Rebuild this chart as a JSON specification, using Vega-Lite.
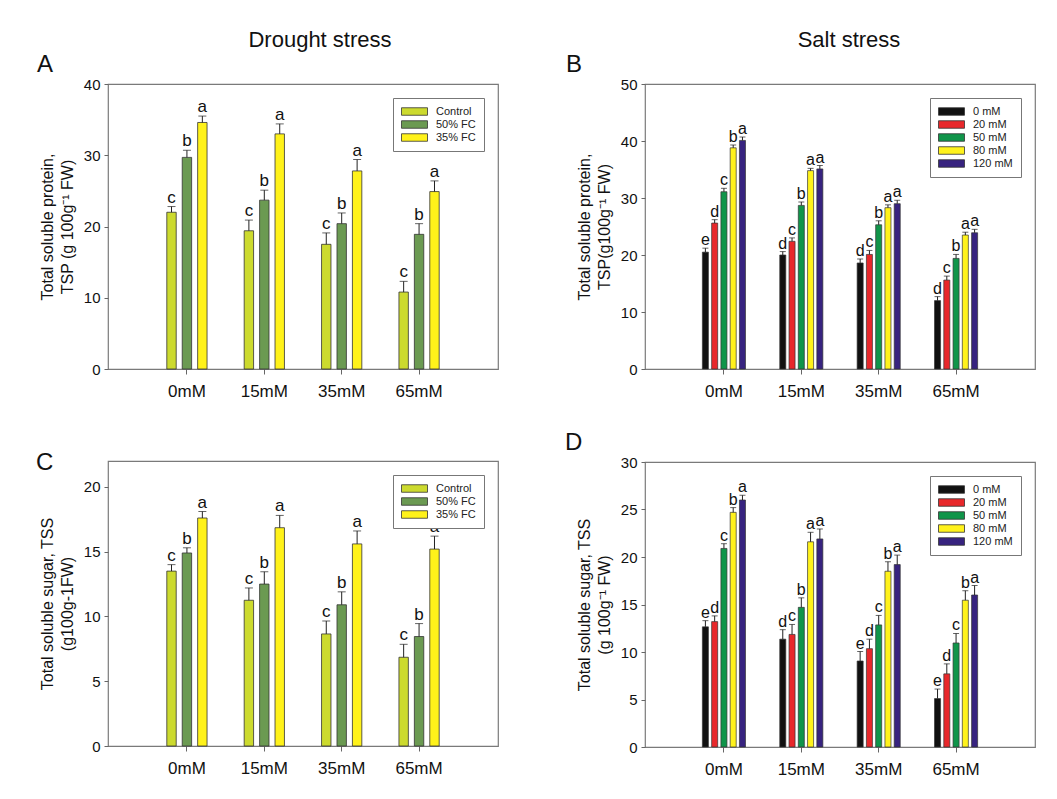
{
  "$schema": "https://vega.github.io/schema/vega-lite/v6.json",
  "background": "white",
  "padding": {"left": 35, "top": 29, "right": 5, "bottom": 5},
  "config": {
    "font": "Liberation Sans",
    "view": {"stroke": "#7a7a7a", "strokeWidth": 1.2},
    "axis": {"grid": false, "domain": false, "tickColor": "#666", "labelColor": "#111", "titleColor": "#111", "titleFontWeight": "normal"},
    "axisY": {"labelFontSize": 15, "tickSize": 4, "labelPadding": 4, "titleFontSize": 16, "titlePadding": 8, "titleLineHeight": 20},
    "axisX": {"labelFontSize": 17, "tickSize": 5, "labelPadding": 9, "labelAngle": 0},
    "legend": {"title": null, "orient": "top-right", "offset": 14, "fillColor": "white", "strokeColor": "#777", "padding": 8, "labelFontSize": 11, "labelColor": "#222", "symbolType": "M-2.6,-0.75L2.6,-0.75L2.6,0.75L-2.6,0.75Z", "symbolSize": 100, "symbolStrokeColor": "#333", "symbolStrokeWidth": 0.8, "symbolOffset": 8, "labelOffset": 16, "rowPadding": 1, "symbolOpacity": 1},
    "title": {"fontWeight": "normal", "color": "#111"}
  },
  "datasets": {
    "a": [
      {"salt": "0mM", "trt": "Control", "mean": 22.0, "upper": 22.8, "letter": "c"},
      {"salt": "0mM", "trt": "50% FC", "mean": 29.7, "upper": 30.7, "letter": "b"},
      {"salt": "0mM", "trt": "35% FC", "mean": 34.6, "upper": 35.5, "letter": "a"},
      {"salt": "15mM", "trt": "Control", "mean": 19.4, "upper": 20.9, "letter": "c"},
      {"salt": "15mM", "trt": "50% FC", "mean": 23.7, "upper": 25.1, "letter": "b"},
      {"salt": "15mM", "trt": "35% FC", "mean": 33.0, "upper": 34.4, "letter": "a"},
      {"salt": "35mM", "trt": "Control", "mean": 17.5, "upper": 19.1, "letter": "c"},
      {"salt": "35mM", "trt": "50% FC", "mean": 20.4, "upper": 21.9, "letter": "b"},
      {"salt": "35mM", "trt": "35% FC", "mean": 27.8, "upper": 29.4, "letter": "a"},
      {"salt": "65mM", "trt": "Control", "mean": 10.8, "upper": 12.3, "letter": "c"},
      {"salt": "65mM", "trt": "50% FC", "mean": 18.9, "upper": 20.4, "letter": "b"},
      {"salt": "65mM", "trt": "35% FC", "mean": 24.9, "upper": 26.4, "letter": "a"}
    ],
    "b": [
      {"salt": "0mM", "trt": "0 mM", "mean": 20.5, "upper": 21.2, "letter": "e"},
      {"salt": "0mM", "trt": "20 mM", "mean": 25.6, "upper": 26.2, "letter": "d"},
      {"salt": "0mM", "trt": "50 mM", "mean": 31.1, "upper": 31.7, "letter": "c"},
      {"salt": "0mM", "trt": "80 mM", "mean": 38.8, "upper": 39.3, "letter": "b"},
      {"salt": "0mM", "trt": "120 mM", "mean": 40.1, "upper": 40.7, "letter": "a"},
      {"salt": "15mM", "trt": "0 mM", "mean": 20.0, "upper": 20.6, "letter": "d"},
      {"salt": "15mM", "trt": "20 mM", "mean": 22.4, "upper": 23.0, "letter": "c"},
      {"salt": "15mM", "trt": "50 mM", "mean": 28.7, "upper": 29.3, "letter": "b"},
      {"salt": "15mM", "trt": "80 mM", "mean": 34.8, "upper": 35.2, "letter": "a"},
      {"salt": "15mM", "trt": "120 mM", "mean": 35.1, "upper": 35.7, "letter": "a"},
      {"salt": "35mM", "trt": "0 mM", "mean": 18.6, "upper": 19.3, "letter": "d"},
      {"salt": "35mM", "trt": "20 mM", "mean": 20.1, "upper": 20.8, "letter": "c"},
      {"salt": "35mM", "trt": "50 mM", "mean": 25.3, "upper": 26.0, "letter": "b"},
      {"salt": "35mM", "trt": "80 mM", "mean": 28.3, "upper": 28.8, "letter": "a"},
      {"salt": "35mM", "trt": "120 mM", "mean": 29.0, "upper": 29.6, "letter": "a"},
      {"salt": "65mM", "trt": "0 mM", "mean": 12.0, "upper": 12.7, "letter": "d"},
      {"salt": "65mM", "trt": "20 mM", "mean": 15.6, "upper": 16.3, "letter": "c"},
      {"salt": "65mM", "trt": "50 mM", "mean": 19.4, "upper": 20.1, "letter": "b"},
      {"salt": "65mM", "trt": "80 mM", "mean": 23.5, "upper": 24.0, "letter": "a"},
      {"salt": "65mM", "trt": "120 mM", "mean": 23.9, "upper": 24.5, "letter": "a"}
    ],
    "c": [
      {"salt": "0mM", "trt": "Control", "mean": 13.5, "upper": 14.0, "letter": "c"},
      {"salt": "0mM", "trt": "50% FC", "mean": 14.9, "upper": 15.3, "letter": "b"},
      {"salt": "0mM", "trt": "35% FC", "mean": 17.6, "upper": 18.1, "letter": "a"},
      {"salt": "15mM", "trt": "Control", "mean": 11.25, "upper": 12.2, "letter": "c"},
      {"salt": "15mM", "trt": "50% FC", "mean": 12.5, "upper": 13.45, "letter": "b"},
      {"salt": "15mM", "trt": "35% FC", "mean": 16.85, "upper": 17.8, "letter": "a"},
      {"salt": "35mM", "trt": "Control", "mean": 8.65, "upper": 9.65, "letter": "c"},
      {"salt": "35mM", "trt": "50% FC", "mean": 10.9, "upper": 11.9, "letter": "b"},
      {"salt": "35mM", "trt": "35% FC", "mean": 15.6, "upper": 16.6, "letter": "a"},
      {"salt": "65mM", "trt": "Control", "mean": 6.85, "upper": 7.85, "letter": "c"},
      {"salt": "65mM", "trt": "50% FC", "mean": 8.45, "upper": 9.45, "letter": "b"},
      {"salt": "65mM", "trt": "35% FC", "mean": 15.2, "upper": 16.2, "letter": "a"}
    ],
    "d": [
      {"salt": "0mM", "trt": "0 mM", "mean": 12.65, "upper": 13.3, "letter": "e"},
      {"salt": "0mM", "trt": "20 mM", "mean": 13.2, "upper": 13.8, "letter": "d"},
      {"salt": "0mM", "trt": "50 mM", "mean": 20.9, "upper": 21.4, "letter": "c"},
      {"salt": "0mM", "trt": "80 mM", "mean": 24.7, "upper": 25.2, "letter": "b"},
      {"salt": "0mM", "trt": "120 mM", "mean": 26.0, "upper": 26.5, "letter": "a"},
      {"salt": "15mM", "trt": "0 mM", "mean": 11.35, "upper": 12.35, "letter": "d"},
      {"salt": "15mM", "trt": "20 mM", "mean": 11.85, "upper": 12.9, "letter": "c"},
      {"salt": "15mM", "trt": "50 mM", "mean": 14.7, "upper": 15.7, "letter": "b"},
      {"salt": "15mM", "trt": "80 mM", "mean": 21.6, "upper": 22.6, "letter": "a"},
      {"salt": "15mM", "trt": "120 mM", "mean": 21.9, "upper": 22.95, "letter": "a"},
      {"salt": "35mM", "trt": "0 mM", "mean": 9.05, "upper": 10.05, "letter": "e"},
      {"salt": "35mM", "trt": "20 mM", "mean": 10.35, "upper": 11.35, "letter": "d"},
      {"salt": "35mM", "trt": "50 mM", "mean": 12.85, "upper": 13.85, "letter": "c"},
      {"salt": "35mM", "trt": "80 mM", "mean": 18.5, "upper": 19.5, "letter": "b"},
      {"salt": "35mM", "trt": "120 mM", "mean": 19.2, "upper": 20.2, "letter": "a"},
      {"salt": "65mM", "trt": "0 mM", "mean": 5.1, "upper": 6.1, "letter": "e"},
      {"salt": "65mM", "trt": "20 mM", "mean": 7.7, "upper": 8.75, "letter": "d"},
      {"salt": "65mM", "trt": "50 mM", "mean": 10.95, "upper": 11.95, "letter": "c"},
      {"salt": "65mM", "trt": "80 mM", "mean": 15.45, "upper": 16.45, "letter": "b"},
      {"salt": "65mM", "trt": "120 mM", "mean": 16.0, "upper": 17.0, "letter": "a"}
    ]
  },
  "resolve": {"scale": {"color": "independent", "xOffset": "independent"}, "legend": {"color": "independent"}},
  "spacing": 65,
  "hconcat": [
    {
      "title": {"text": "Drought stress", "fontSize": 22, "anchor": "middle", "offset": 0, "dx": 53},
      "spacing": 50,
      "resolve": {"scale": {"color": "independent", "xOffset": "independent"}, "legend": {"color": "independent"}},
      "vconcat": [
        {
          "width": 390, "height": 285,
          "title": {"text": "A", "anchor": "start", "frame": "group", "fontSize": 24, "dx": -71, "offset": 0},
          "data": {"name": "a"},
          "encoding": {
            "x": {"field": "salt", "type": "nominal", "sort": ["0mM", "15mM", "35mM", "65mM"], "title": null, "scale": {"paddingInner": 0.4, "paddingOuter": 0.72}},
            "xOffset": {"field": "trt", "type": "nominal", "sort": ["Control", "50% FC", "35% FC"], "scale": {"paddingInner": 0.39, "paddingOuter": 0.2}}
          },
          "layer": [
            {"mark": {"type": "bar", "stroke": "#333", "strokeWidth": 0.8},
             "encoding": {
               "y": {"field": "mean", "type": "quantitative", "scale": {"domain": [0, 40], "nice": false}, "axis": {"values": [0, 10, 20, 30, 40]}, "title": ["Total soluble protein,", "TSP (g 100g⁻¹ FW)"]},
               "color": {"field": "trt", "type": "nominal", "scale": {"domain": ["Control", "50% FC", "35% FC"], "range": ["#CCDA2E", "#6B9A52", "#FFF21A"]}}
             }},
            {"mark": {"type": "rule", "color": "#222", "strokeWidth": 1},
             "encoding": {"y": {"field": "mean", "type": "quantitative", "title": ["Total soluble protein,", "TSP (g 100g⁻¹ FW)"]}, "y2": {"field": "upper"}}},
            {"mark": {"type": "tick", "color": "#222", "thickness": 1, "size": 8},
             "encoding": {"y": {"field": "upper", "type": "quantitative", "title": ["Total soluble protein,", "TSP (g 100g⁻¹ FW)"]}}},
            {"mark": {"type": "text", "fontSize": 17, "baseline": "alphabetic", "dy": -4, "color": "#111"},
             "encoding": {"y": {"field": "upper", "type": "quantitative", "title": ["Total soluble protein,", "TSP (g 100g⁻¹ FW)"]}, "text": {"field": "letter"}}}
          ]
        },
        {
          "width": 390, "height": 285,
          "title": {"text": "C", "anchor": "start", "frame": "group", "fontSize": 24, "dx": -72, "offset": 0, "dy": 14},
          "data": {"name": "c"},
          "encoding": {
            "x": {"field": "salt", "type": "nominal", "sort": ["0mM", "15mM", "35mM", "65mM"], "title": null, "scale": {"paddingInner": 0.4, "paddingOuter": 0.72}},
            "xOffset": {"field": "trt", "type": "nominal", "sort": ["Control", "50% FC", "35% FC"], "scale": {"paddingInner": 0.39, "paddingOuter": 0.2}}
          },
          "layer": [
            {"mark": {"type": "bar", "stroke": "#333", "strokeWidth": 0.8},
             "encoding": {
               "y": {"field": "mean", "type": "quantitative", "scale": {"domain": [0, 22], "nice": false}, "axis": {"values": [0, 5, 10, 15, 20]}, "title": ["Total soluble sugar, TSS", "(g100g-1FW)"]},
               "color": {"field": "trt", "type": "nominal", "scale": {"domain": ["Control", "50% FC", "35% FC"], "range": ["#CCDA2E", "#6B9A52", "#FFF21A"]}}
             }},
            {"mark": {"type": "rule", "color": "#222", "strokeWidth": 1},
             "encoding": {"y": {"field": "mean", "type": "quantitative", "title": ["Total soluble sugar, TSS", "(g100g-1FW)"]}, "y2": {"field": "upper"}}},
            {"mark": {"type": "tick", "color": "#222", "thickness": 1, "size": 8},
             "encoding": {"y": {"field": "upper", "type": "quantitative", "title": ["Total soluble sugar, TSS", "(g100g-1FW)"]}}},
            {"mark": {"type": "text", "fontSize": 17, "baseline": "alphabetic", "dy": -4, "color": "#111"},
             "encoding": {"y": {"field": "upper", "type": "quantitative", "title": ["Total soluble sugar, TSS", "(g100g-1FW)"]}, "text": {"field": "letter"}}}
          ]
        }
      ]
    },
    {
      "title": {"text": "Salt stress", "fontSize": 22, "anchor": "middle", "offset": 0, "dx": 49},
      "spacing": 30,
      "resolve": {"scale": {"color": "independent", "xOffset": "independent"}, "legend": {"color": "independent"}},
      "vconcat": [
        {
          "width": 390, "height": 285,
          "title": {"text": "B", "anchor": "start", "frame": "group", "fontSize": 24, "dx": -79, "offset": 0},
          "data": {"name": "b"},
          "encoding": {
            "x": {"field": "salt", "type": "nominal", "sort": ["0mM", "15mM", "35mM", "65mM"], "title": null, "scale": {"paddingInner": 0.4, "paddingOuter": 0.72}},
            "xOffset": {"field": "trt", "type": "nominal", "sort": ["0 mM", "20 mM", "50 mM", "80 mM", "120 mM"], "scale": {"paddingInner": 0.35, "paddingOuter": 0.18}}
          },
          "layer": [
            {"mark": {"type": "bar", "stroke": "#333", "strokeWidth": 0.7},
             "encoding": {
               "y": {"field": "mean", "type": "quantitative", "scale": {"domain": [0, 50], "nice": false}, "axis": {"values": [0, 10, 20, 30, 40, 50]}, "title": ["Total soluble protein,", "TSP(g100g⁻¹ FW)"]},
               "color": {"field": "trt", "type": "nominal", "scale": {"domain": ["0 mM", "20 mM", "50 mM", "80 mM", "120 mM"], "range": ["#111111", "#E8282B", "#10954A", "#FFF21C", "#37237F"]}}
             }},
            {"mark": {"type": "rule", "color": "#222", "strokeWidth": 1},
             "encoding": {"y": {"field": "mean", "type": "quantitative", "title": ["Total soluble protein,", "TSP(g100g⁻¹ FW)"]}, "y2": {"field": "upper"}}},
            {"mark": {"type": "tick", "color": "#222", "thickness": 1, "size": 6},
             "encoding": {"y": {"field": "upper", "type": "quantitative", "title": ["Total soluble protein,", "TSP(g100g⁻¹ FW)"]}}},
            {"mark": {"type": "text", "fontSize": 16, "baseline": "alphabetic", "dy": -3, "color": "#111"},
             "encoding": {"y": {"field": "upper", "type": "quantitative", "title": ["Total soluble protein,", "TSP(g100g⁻¹ FW)"]}, "text": {"field": "letter"}}}
          ]
        },
        {
          "width": 390, "height": 285,
          "title": {"text": "D", "anchor": "start", "frame": "group", "fontSize": 24, "dx": -80, "offset": 0},
          "data": {"name": "d"},
          "encoding": {
            "x": {"field": "salt", "type": "nominal", "sort": ["0mM", "15mM", "35mM", "65mM"], "title": null, "scale": {"paddingInner": 0.4, "paddingOuter": 0.72}},
            "xOffset": {"field": "trt", "type": "nominal", "sort": ["0 mM", "20 mM", "50 mM", "80 mM", "120 mM"], "scale": {"paddingInner": 0.35, "paddingOuter": 0.18}}
          },
          "layer": [
            {"mark": {"type": "bar", "stroke": "#333", "strokeWidth": 0.7},
             "encoding": {
               "y": {"field": "mean", "type": "quantitative", "scale": {"domain": [0, 30], "nice": false}, "axis": {"values": [0, 5, 10, 15, 20, 25, 30]}, "title": ["Total soluble sugar, TSS", "(g 100g⁻¹ FW)"]},
               "color": {"field": "trt", "type": "nominal", "scale": {"domain": ["0 mM", "20 mM", "50 mM", "80 mM", "120 mM"], "range": ["#111111", "#E8282B", "#10954A", "#FFF21C", "#37237F"]}}
             }},
            {"mark": {"type": "rule", "color": "#222", "strokeWidth": 1},
             "encoding": {"y": {"field": "mean", "type": "quantitative", "title": ["Total soluble sugar, TSS", "(g 100g⁻¹ FW)"]}, "y2": {"field": "upper"}}},
            {"mark": {"type": "tick", "color": "#222", "thickness": 1, "size": 6},
             "encoding": {"y": {"field": "upper", "type": "quantitative", "title": ["Total soluble sugar, TSS", "(g 100g⁻¹ FW)"]}}},
            {"mark": {"type": "text", "fontSize": 16, "baseline": "alphabetic", "dy": -3, "color": "#111"},
             "encoding": {"y": {"field": "upper", "type": "quantitative", "title": ["Total soluble sugar, TSS", "(g 100g⁻¹ FW)"]}, "text": {"field": "letter"}}}
          ]
        }
      ]
    }
  ]
}
